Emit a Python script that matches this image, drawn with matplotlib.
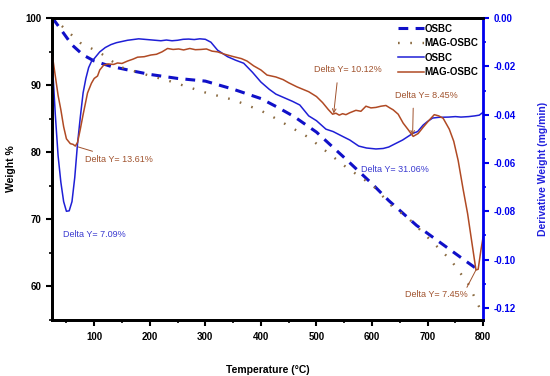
import matplotlib
matplotlib.use('Agg')
import matplotlib.pyplot as plt
import numpy as np

plt.rcParams['font.family'] = ['Liberation Sans', 'DejaVu Sans']

# TG curves (weight %)
osbc_tg_t = [25, 40, 60, 80, 100, 130, 170, 200, 250, 300, 350, 400, 430, 460,
             500, 550, 600, 630, 680, 720, 760, 787]
osbc_tg_w = [100, 98.3, 96.0, 94.5, 93.6, 92.8, 92.1, 91.6, 91.0, 90.6, 89.4, 88.0,
             86.7, 85.3, 83.0, 79.2, 75.3, 72.8, 69.1, 66.7, 64.3, 62.7]

mag_tg_t = [25, 34, 75, 111, 147, 200, 232, 300, 351, 400, 423, 486, 553, 602,
            634, 666, 693, 742, 773, 793]
mag_tg_w = [100, 99.4, 96.3, 94.8, 92.7, 91.4, 90.7, 88.9, 87.8, 86.2, 85.2, 82.2,
            77.8, 75.0, 72.1, 70.1, 67.9, 63.9, 60.4, 56.9]

# DTG curves (mg/min)
osbc_dtg_t = [25, 30, 35, 40, 45, 50, 55, 60, 65, 70, 75, 80, 85, 90, 95, 100,
              110, 120, 130, 140, 150, 160, 170, 180, 190, 200, 210, 220, 230, 240,
              250, 260, 270, 280, 290, 300, 310, 322, 340, 355, 369, 385, 400, 415,
              427, 439, 457, 470, 486, 500, 517, 530, 547, 560, 576, 590, 607, 620,
              630, 642, 655, 665, 673, 682, 692, 700, 709, 720, 738, 750, 760, 774,
              785, 793, 800]
osbc_dtg_v = [-0.020, -0.040, -0.057, -0.068, -0.076, -0.0800, -0.0798, -0.076,
              -0.066, -0.052, -0.041, -0.031, -0.025, -0.0205, -0.0180, -0.0168,
              -0.0140, -0.0122, -0.0110, -0.0102, -0.0097, -0.0092, -0.0089, -0.0086,
              -0.0088, -0.0090, -0.0092, -0.0094, -0.0091, -0.0094, -0.0092, -0.0088,
              -0.0087, -0.0089, -0.0086, -0.0088, -0.0100, -0.0133, -0.0160, -0.0175,
              -0.0187, -0.0225, -0.0265, -0.0295, -0.0315, -0.0327, -0.0345, -0.0360,
              -0.0405, -0.0425, -0.0460, -0.0470, -0.0490, -0.0505, -0.0530, -0.0538,
              -0.0542, -0.0540, -0.0534, -0.0520, -0.0505, -0.0490, -0.0478, -0.0470,
              -0.0443, -0.0428, -0.0414, -0.0411, -0.0410, -0.0408, -0.0410, -0.0408,
              -0.0405, -0.0402, -0.0390]

mag_dtg_t = [25, 30, 35, 40, 45, 50, 57, 62, 66, 70, 75, 80, 88, 95, 100, 106,
             110, 117, 125, 135, 142, 150, 160, 170, 178, 190, 202, 212, 222, 232,
             242, 252, 261, 272, 282, 292, 302, 312, 322, 335, 351, 365, 375, 387,
             400, 411, 427, 440, 450, 465, 486, 500, 511, 521, 529, 535, 541, 547,
             553, 560, 571, 580, 589, 598, 607, 616, 625, 632, 638, 647, 656, 665,
             674, 683, 692, 702, 712, 720, 728, 739, 747, 755, 764, 772, 781, 787,
             791, 796, 800]
mag_dtg_v = [-0.016, -0.024, -0.032, -0.038, -0.045, -0.050, -0.052, -0.0523,
             -0.053, -0.0515, -0.046, -0.040, -0.031, -0.027, -0.025, -0.0240,
             -0.0215, -0.0195, -0.0190, -0.0192, -0.0186, -0.0188, -0.0178, -0.0170,
             -0.0162, -0.0160, -0.0153, -0.0150, -0.0140, -0.0126, -0.0130, -0.0128,
             -0.0132, -0.0126, -0.0131, -0.0130, -0.0128, -0.0137, -0.0140, -0.0150,
             -0.0160, -0.0168, -0.0178, -0.0198, -0.0215, -0.0236, -0.0244, -0.0255,
             -0.0268, -0.0285, -0.0305, -0.0325, -0.0350, -0.0378, -0.0398, -0.0394,
             -0.0402, -0.0396, -0.0400, -0.0392, -0.0382, -0.0386, -0.0365, -0.0372,
             -0.0370, -0.0365, -0.0362, -0.0372, -0.0380, -0.0398, -0.0435, -0.0462,
             -0.0490, -0.0478, -0.0452, -0.0425, -0.0400, -0.0405, -0.0415, -0.0460,
             -0.0510, -0.0590, -0.0710, -0.0810, -0.0950, -0.1043, -0.1040, -0.0960,
             -0.0905]

blue = '#1f1fd6'
brown = '#b04a24'
dot_brown = '#8a6a40'

fig = plt.figure(figsize=(5.5, 3.76), dpi=100)
ax = fig.add_axes([0.0945, 0.149, 0.784, 0.803])
ax2 = ax.twinx()

l1, = ax.plot(osbc_tg_t, osbc_tg_w, color='#1010c8', lw=2.2, dashes=(3.2, 2.4), label='OSBC')
l2, = ax.plot(mag_tg_t, mag_tg_w, color=dot_brown, lw=1.7, dashes=(0.7, 4.5), label='MAG-OSBC')
l3, = ax2.plot(osbc_dtg_t, osbc_dtg_v, color=blue, lw=1.1, label='OSBC')
l4, = ax2.plot(mag_dtg_t, mag_dtg_v, color=brown, lw=1.1, label='MAG-OSBC')

ax.set_xlim(24, 800)
ax.set_ylim(55, 100)
ax2.set_ylim(-0.125, 0)

ax.set_xticks(range(100, 801, 100))
ax.set_xticks(range(50, 801, 100), minor=True)
ax.set_yticks(range(60, 101, 10))
ax.set_yticks(range(55, 101, 10), minor=True)
ax2.set_yticks(np.arange(-0.12, 0.001, 0.02))
ax2.set_yticks(np.arange(-0.11, 0.0, 0.02), minor=True)
ax2.set_yticklabels(['-0.12', '-0.10', '-0.08', '-0.06', '-0.04', '-0.02', '0.00'])

for s in ['left', 'bottom', 'top']:
    ax.spines[s].set_linewidth(2)
    ax2.spines[s].set_linewidth(2)
ax2.spines['right'].set_linewidth(2)
ax2.spines['right'].set_color('#0000ee')

ax.tick_params(which='major', direction='out', length=4, width=1.5, labelsize=7)
ax.tick_params(which='minor', direction='out', length=2.5, width=1.2)
ax2.tick_params(which='major', direction='out', length=4, width=1.5, labelsize=7,
                colors='#0000ee')
ax2.tick_params(which='minor', direction='out', length=2.5, width=1.2, colors='#0000ee')
for lab in ax.get_xticklabels() + ax.get_yticklabels() + ax2.get_yticklabels():
    lab.set_fontweight('bold')
ax.tick_params(axis='x', pad=5)

ax.set_xlabel('Temperature (°C)', fontsize=7.5, fontweight='bold', labelpad=16)
ax.set_ylabel('Weight %', fontsize=7.5, fontweight='bold', labelpad=7)
ax2.set_ylabel('Derivative Weight (mg/min)', fontsize=7.5, fontweight='bold',
               color='#2020dd', labelpad=16)

leg = ax2.legend(handles=[l1, l2, l3, l4], loc='upper left', bbox_to_anchor=(0.79, 1.0),
                 frameon=False, fontsize=7, handlelength=2.6, handletextpad=0.1,
                 labelspacing=0.45, borderaxespad=0.2)
for t in leg.get_texts():
    t.set_fontweight('bold')

afs = 6.5
ann_brown = '#a0522d'
ann_blue = '#3a3ad0'
ax2.annotate('Delta Y= 13.61%', xy=(66, -0.053), xytext=(84, -0.0585), color=ann_brown,
             fontsize=afs, va='center',
             arrowprops=dict(arrowstyle='-', color=ann_brown, lw=0.7))
ax2.text(43, -0.0895, 'Delta Y= 7.09%', color=ann_blue, fontsize=afs, va='center')
ax2.annotate('Delta Y= 10.12%', xy=(531, -0.0395), xytext=(557, -0.0215), color=ann_brown,
             fontsize=afs, va='center', ha='center',
             arrowprops=dict(arrowstyle='->', color=ann_brown, lw=0.7, shrinkA=4, shrinkB=0,
                             relpos=(0.35, 0.0)))
ax2.annotate('Delta Y= 8.45%', xy=(673, -0.0485), xytext=(697, -0.032), color=ann_brown,
             fontsize=afs, va='center', ha='center',
             arrowprops=dict(arrowstyle='->', color=ann_brown, lw=0.7, shrinkA=4, shrinkB=0,
                             relpos=(0.3, 0.0)))
ax2.text(580, -0.0625, 'Delta Y= 31.06%', color=ann_blue, fontsize=afs, va='center')
ax2.annotate('Delta Y= 7.45%', xy=(787, -0.1043), xytext=(660, -0.1145), color=ann_brown,
             fontsize=afs, va='center',
             arrowprops=dict(arrowstyle='-', color=ann_brown, lw=0.7, shrinkA=0, shrinkB=0,
                             relpos=(0.95, 0.9)))

fig.savefig('out.png', dpi=100)
